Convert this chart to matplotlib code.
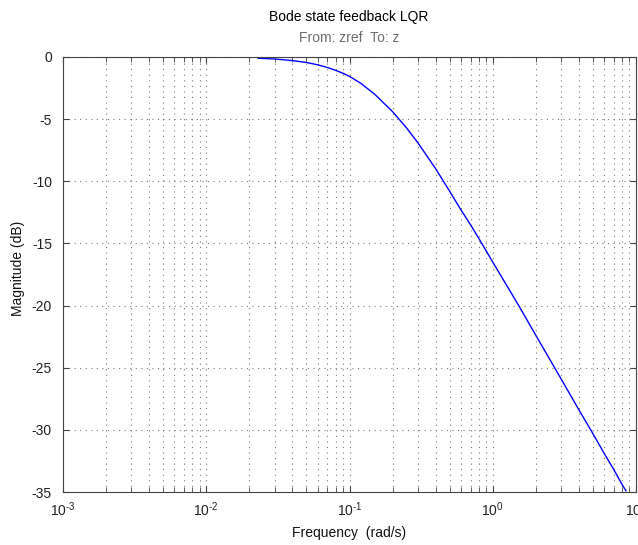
import numpy as np
import matplotlib
matplotlib.use("Agg")
import matplotlib.pyplot as plt
from matplotlib.ticker import LogLocator, FixedLocator

plt.rcParams['font.family'] = ['Liberation Sans', 'DejaVu Sans']
plt.rcParams['mathtext.fontset'] = 'custom'
plt.rcParams['mathtext.rm'] = 'Liberation Sans'
plt.rcParams['axes.unicode_minus'] = False

# closed loop magnitude, zref -> z
freq = [0.023, 0.03, 0.04, 0.05, 0.06, 0.07, 0.08, 0.09, 0.1, 0.12,
        0.15, 0.2, 0.25, 0.3, 0.4, 0.5, 0.6, 0.7, 0.8, 0.9,
        1.0, 1.5, 2.0, 3.0, 4.0, 5.0, 6.0, 7.0, 8.0, 8.5]
mag_db = [-0.10, -0.16, -0.29, -0.44, -0.63, -0.84, -1.07, -1.31, -1.56, -2.12,
          -3.00, -4.40, -5.70, -6.90, -9.00, -10.8, -12.3, -13.5, -14.6, -15.6,
          -16.5, -19.9, -22.4, -25.9, -28.4, -30.3, -31.9, -33.2, -34.4, -34.9]
y_ticks = [0, -5, -10, -15, -20, -25, -30, -35]
x_ticks = [1e-3, 1e-2, 1e-1, 1e0, 1e1]
x_exps = ['-3', '-2', '-1', '0', '1']

fig = plt.figure(figsize=(6.38, 5.45), dpi=100)
ax = fig.add_axes([63 / 638, 1 - 492 / 545, 573 / 638, 435 / 545])

ax.semilogx(freq, mag_db, color='#0000ff', linewidth=1.0)
ax.set_xlim(1e-3, 1e1)
ax.set_ylim(-35, 0)

# plain hyphen in the exponents, like the y labels
ax.set_xticks(x_ticks)
ax.set_xticklabels(['$10^{\\text{%s}}$' % e for e in x_exps])
ax.xaxis.set_minor_locator(LogLocator(base=10, subs=np.arange(2, 10), numticks=50))
ax.yaxis.set_major_locator(FixedLocator(y_ticks))

frame = '#444444'
for s in ax.spines.values():
    s.set_color(frame)
    s.set_linewidth(0.8)
ax.tick_params(which='both', direction='in', top=True, right=True,
               color=frame, labelcolor='#222222', labelsize=10)
ax.tick_params(which='major', length=4.5, width=0.8)
ax.tick_params(which='minor', length=3.5, width=0.6)
ax.tick_params(axis='x', which='major', pad=6)
ax.tick_params(axis='y', which='major', pad=8)

ax.grid(True, which='major', color='#7a7a7a', linestyle=(0, (1, 4)), linewidth=0.8)
ax.grid(True, which='minor', axis='x', color='#7a7a7a', linestyle=(0, (1, 4)), linewidth=0.8)

ax.set_xlabel('Frequency  (rad/s)', fontsize=10, color='#111111', labelpad=5)
fig.text(18 / 638, 1 - 268 / 545, 'Magnitude (dB)', rotation=90, fontsize=10,
         color='#111111', ha='center', va='center')

fig.text(349 / 638, 1 - 17 / 545, 'Bode state feedback LQR', fontsize=10,
         color='black', ha='center', va='center')
fig.text(349 / 638, 1 - 38 / 545, 'From: zref  To: z', fontsize=10,
         color='#6e6e6e', ha='center', va='center')

fig.savefig('out.png', dpi=100)
